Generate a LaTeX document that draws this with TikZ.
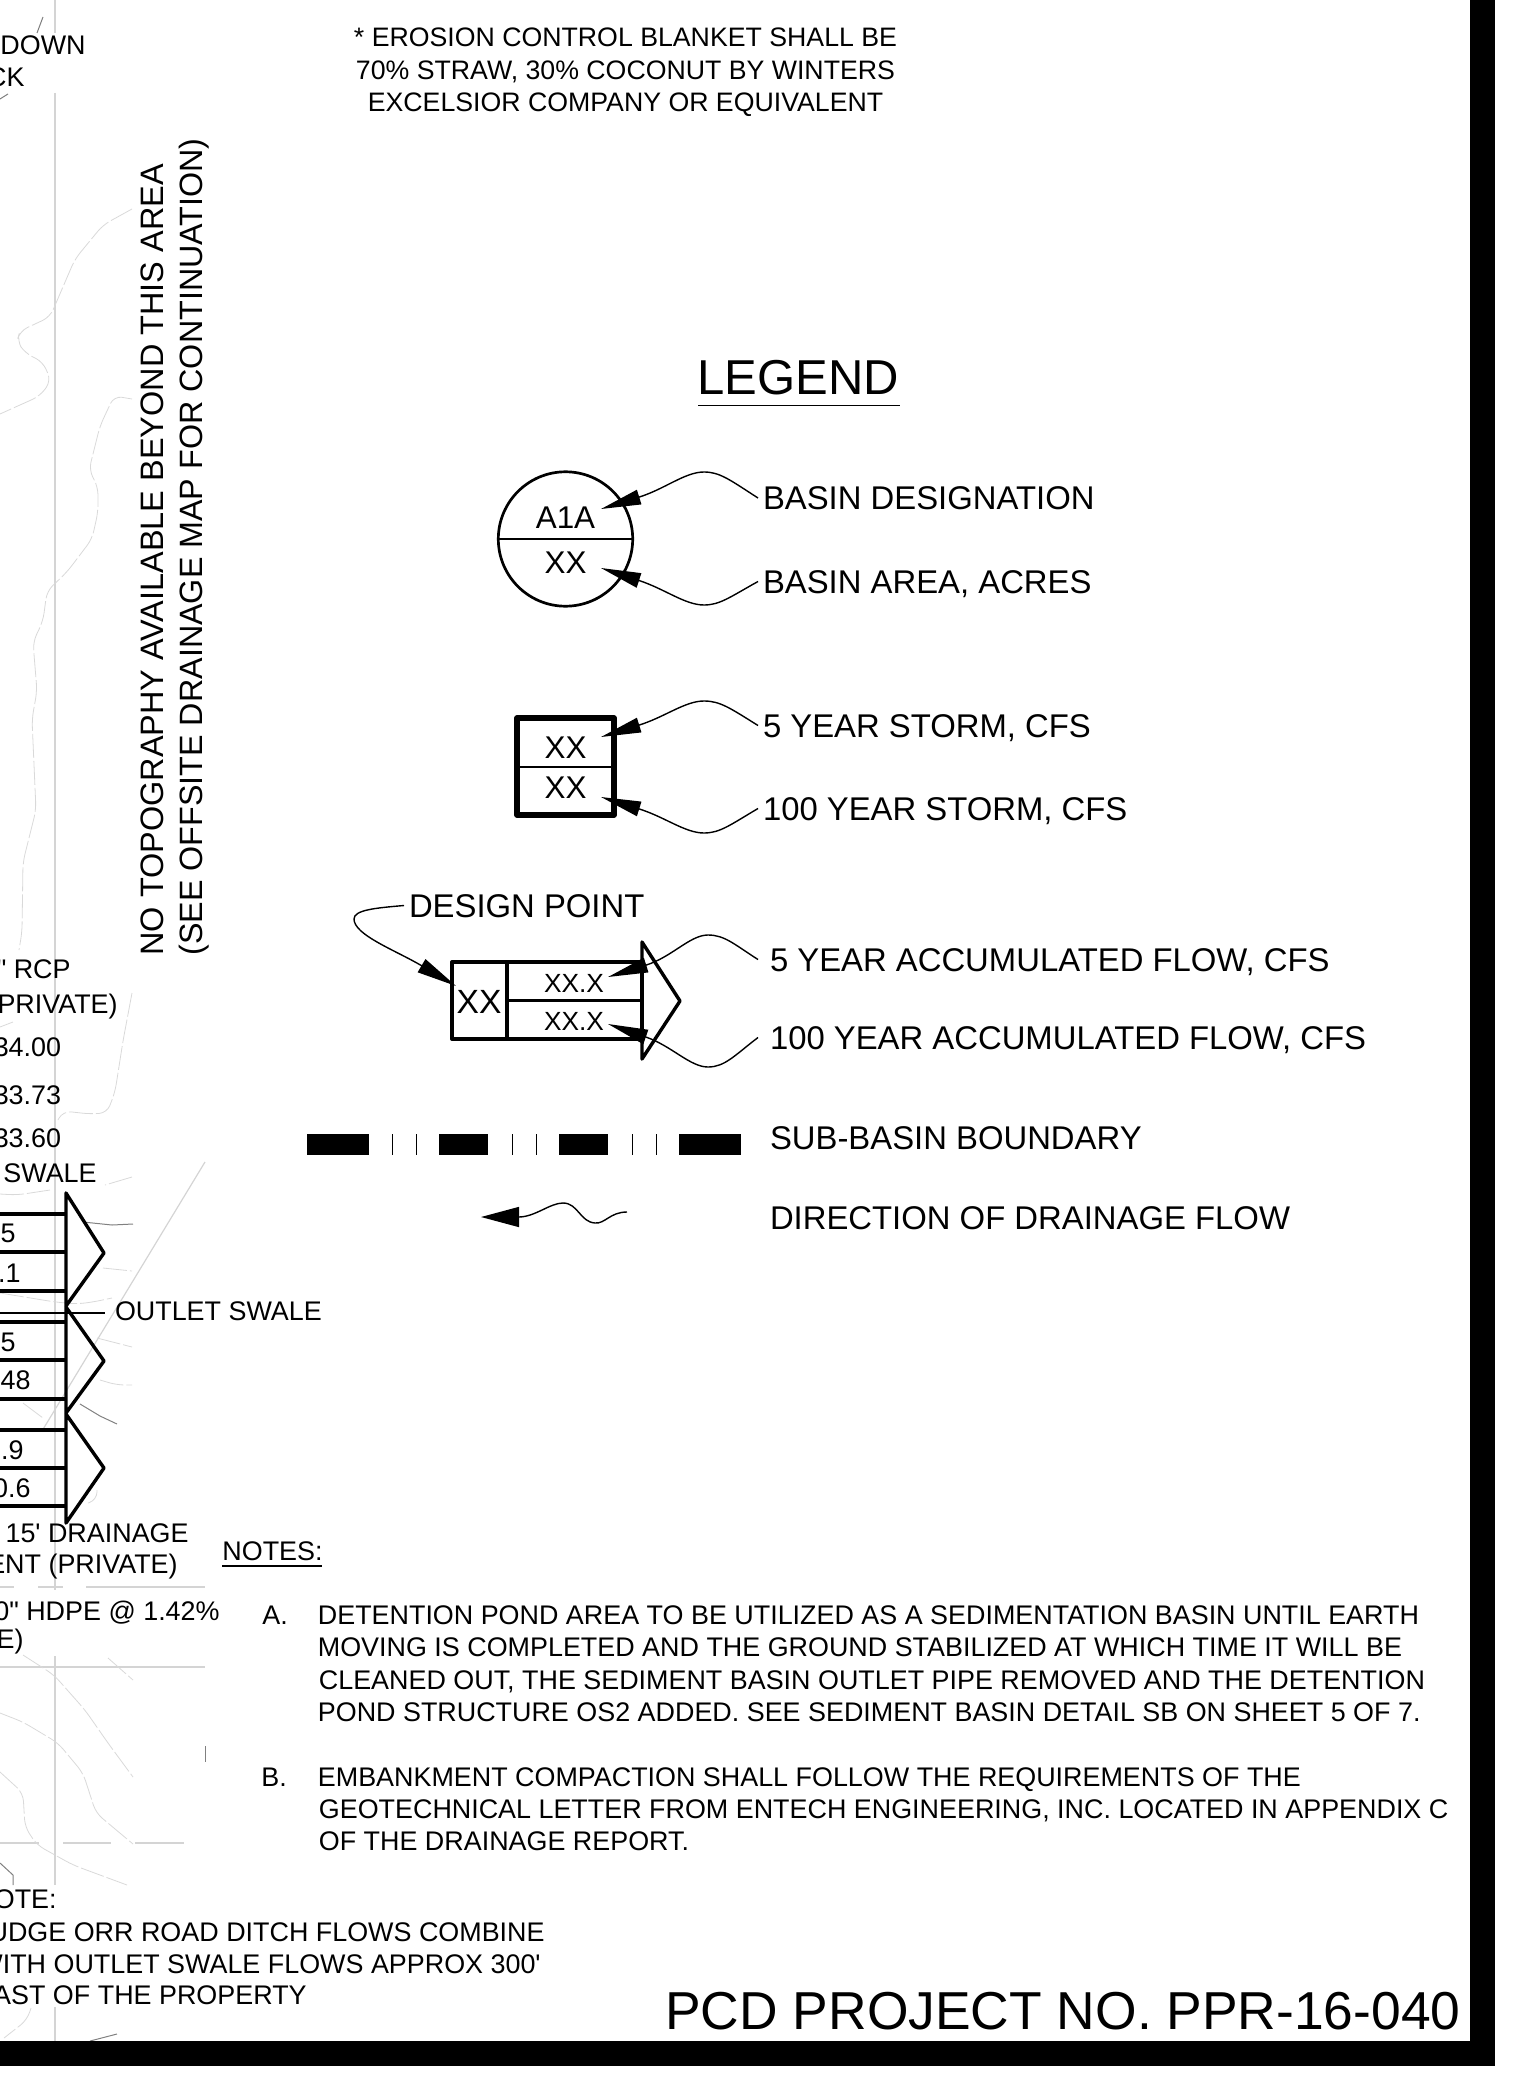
\documentclass[tikz,border=0pt]{standalone}
\usepackage{fontspec}
\defaultfontfeatures[\rmfamily]{}
\setmainfont{Liberation Sans}
\usetikzlibrary{arrows.meta}

\tikzset{
    lab/.style={inner sep=0pt, outer sep=2.5pt, anchor=base west, text height=11.5pt, text depth=0pt, font=\fontsize{16.42}{18}\selectfont},
    sidelab/.style={inner sep=0pt, anchor=base west, font=\fontsize{16.22}{18}\selectfont},
    sm/.style={inner sep=0pt, anchor=base west, font=\fontsize{13.45}{15}\selectfont},
    smr/.style={sm, anchor=base east},
    cell/.style={inner sep=0pt, anchor=base, font=\fontsize{15.7}{18}\selectfont},
    leader/.style={-{Triangle[length=20pt,width=7.5pt]}, line width=0.7pt},
    flowbox/.style={draw, line width=1.7pt, line join=round},
    topo/.style={draw=black!15, line width=0.4pt, dash pattern=on 12pt off 1.5pt, rounded corners=4pt},
    ground/.style={draw=black!17, line width=0.6pt},
    darktopo/.style={draw=black!50, line width=0.5pt}
}

\begin{document}
\begin{tikzpicture}[x=0.5pt, y=-0.5pt]
        \useasboundingbox (0,0) rectangle (1521,2075);

        % Background
        \foreach \ya/\yb in {0/33,93/1590,1656/1885,2007/2041}
            \path[ground] (55,\ya) -- (55,\yb);
        \path[ground] (205,1162) -- (42,1431);
        \path[ground] (0,1587) -- (14,1587) (38,1587) -- (63,1587) (86,1587) -- (205,1587);
        \path[ground] (0,1667) -- (205,1667);
        \path[ground] (0,1843) -- (39,1843) (63,1843) -- (111,1843) (135,1843) -- (184,1843);
        \path[topo] (132,209) -- (103,225) -- (75,259) -- (50,317) -- (20,331) -- (17,341) -- (25,353) -- (43,362) -- (51,381) -- (40,396) -- (20,405) -- (0,414);
        \path[topo] (132,399) -- (114,396) -- (100,426) -- (89,470) -- (98,487) -- (98,512) -- (92,539) -- (67,572) -- (47,591) -- (43,621) -- (33,642) -- (37,691) -- (32,719) -- (36,810) -- (23,862) -- (22,932) -- (19,950);
        \path[topo] (132,993) -- (123,1041) -- (115,1092) -- (107,1113) -- (90,1114) -- (63,1111) -- (58,1120);
        \path[topo] (13,1022) -- (0,1027);
        \path[topo] (132,1177) -- (105,1185);
        \path[topo] (0,1194) -- (17,1195) -- (50,1190);
        \path[topo] (103,1268) -- (132,1271);
        \path[topo] (0,1293) -- (55,1302) -- (77,1304) -- (93,1302) -- (112,1298);
        \path[topo] (97,1338) -- (132,1347);
        \path[topo] (100,1380) -- (117,1385) -- (132,1385);
        \path[topo] (23,1403) -- (43,1418);
        \path[topo] (97,1490) -- (97,1500) -- (88,1503);
        \path[topo] (23,1655) -- (54,1675) -- (85,1710) -- (108,1743) -- (133,1777);
        \path[topo] (108,1658) -- (133,1680);
        \path[topo] (0,1713) -- (23,1722) -- (58,1743) -- (83,1773) -- (96,1813) -- (133,1844);
        \path[topo] (0,1772) -- (23,1793) -- (25,1827) -- (37,1845) -- (73,1865) -- (127,1885);
        \path[topo] (31,2008) -- (27,2020) -- (4,2038);
        \path[darktopo] (43,17) -- (37,33);
        \path[darktopo] (8,94) -- (0,99);
        \path[darktopo] (83,1222) -- (112,1225) -- (133,1224);
        \path[darktopo] (80,1404) -- (100,1416) -- (117,1424);
        \path[darktopo] (205,1746) -- (205,1762);
        \path[darktopo] (0,1863) -- (13,1875) -- (13,1885);
        \path[darktopo] (117,2034) -- (90,2041);

        % Sheet border
        \fill (1470,0) rectangle (1495,2066);
        \fill (0,2041) rectangle (1495,2066);

        % Top notes
        \node (blanketA) [sm, anchor=base, font=\fontsize{13.35}{15}\selectfont] at (625.5,47) {* EROSION CONTROL BLANKET SHALL BE};
        \node (blanketB) [sm, anchor=base, font=\fontsize{13.35}{15}\selectfont] at (625.5,80) {70\% STRAW, 30\% COCONUT BY WINTERS};
        \node (blanketC) [sm, anchor=base, font=\fontsize{13.35}{15}\selectfont] at (625.5,112) {EXCELSIOR COMPANY OR EQUIVALENT};
        \node (notopoA) [sidelab, rotate=90] at (163,956) {NO TOPOGRAPHY AVAILABLE BEYOND THIS AREA};
        \node (notopoB) [sidelab, rotate=90, font=\fontsize{16.14}{18}\selectfont] at (202,956) {(SEE OFFSITE DRAINAGE MAP FOR CONTINUATION)};

        % Legend title
        \node (legend) [inner sep=0pt, anchor=base west, font=\fontsize{24.5}{28}\selectfont] at (697,395) {LEGEND};
        \draw[line width=0.75pt] (698,405.5) -- (900,405.5);

        % Basin symbol
        \node (basin) [draw, circle, line width=1.35pt, minimum size=67.2pt, inner sep=0pt] at (565.5,539) {};
        \draw[line width=1pt] (basin.west) -- (basin.east);
        \node (basinname) [cell] at (565.5,528) {A1A};
        \node (basinarea) [cell] at (565.5,573) {XX};
        \node (basinnamelab) [lab] at (758,509.5) {BASIN DESIGNATION};
        \node (basinarealab) [lab] at (758,593) {BASIN AREA, ACRES};
        \coordinate (basinnametip) at (601,509);
        \coordinate (basinareatip) at (601,568);
        \draw[leader] (basinnamelab.west) .. controls (730,480) and (720,472) .. (704,472) .. controls (685,472) and (665,489) .. (basinnametip);
        \draw[leader] (basinarealab.west) .. controls (730,597) and (720,605) .. (704,605) .. controls (685,605) and (665,589) .. (basinareatip);

        % Storm symbol
        \node (storm) [draw, rectangle, line width=2.8pt, line join=round, minimum width=48.5pt, minimum height=48.5pt, inner sep=0pt] at (565.5,766.5) {};
        \draw[line width=1pt] (storm.west) -- (storm.east);
        \node (stormfive) [cell] at (565.5,758) {XX};
        \node (stormhundred) [cell] at (565.5,798) {XX};
        \node (stormfivelab) [lab] at (758,737) {5 YEAR STORM, CFS};
        \node (stormhundredlab) [lab] at (758,820) {100 YEAR STORM, CFS};
        \coordinate (stormfivetip) at (601,737);
        \coordinate (stormhundredtip) at (601,797);
        \draw[leader] (stormfivelab.west) .. controls (730,708) and (720,701) .. (704,701) .. controls (685,701) and (665,717) .. (stormfivetip);
        \draw[leader] (stormhundredlab.west) .. controls (730,825) and (720,833) .. (704,833) .. controls (685,833) and (665,817) .. (stormhundredtip);

        % Design point symbol
        \node (dpoint) [flowbox, minimum width=95pt, minimum height=38.5pt, inner sep=0pt] at (547,1000.5) {};
        \draw[flowbox] (507,962) -- (507,1039);
        \draw[flowbox] (dpoint.west) ++(55,0) -- (dpoint.east);
        \draw[flowbox] (642,942) -- (680,1001) -- (642,1059) -- cycle;
        \node (dpointid) [cell, font=\fontsize{16.8}{18}\selectfont] at (479,1013) {XX};
        \node (dpointfive) [cell, font=\fontsize{13.15}{15}\selectfont] at (574,992) {XX.X};
        \node (dpointhundred) [cell, font=\fontsize{13.15}{15}\selectfont] at (574,1030) {XX.X};
        \node (dpointlab) [lab] at (404,917) {DESIGN POINT};
        \node (flowfivelab) [lab, outer sep=6pt] at (758,971) {5 YEAR ACCUMULATED FLOW, CFS};
        \node (flowhundredlab) [lab, outer sep=6pt] at (758,1049) {100 YEAR ACCUMULATED FLOW, CFS};
        \coordinate (dpointtip) at (456,986);
        \coordinate (flowfivetip) at (608,977);
        \coordinate (flowhundredtip) at (608,1024);
        \draw[leader] (dpointlab.west) .. controls (375,908) and (354,910) .. (354,919) .. controls (354,935) and (395,950) .. (dpointtip);
        \draw[leader] (flowfivelab.west) .. controls (735,945) and (725,935) .. (708,935) .. controls (690,935) and (672,957) .. (flowfivetip);
        \draw[leader] (flowhundredlab.west) .. controls (735,1055) and (725,1067) .. (708,1067) .. controls (690,1067) and (672,1046) .. (flowhundredtip);

        % Sub-basin boundary
        \foreach \xa/\xb in {307/369,439/488,559/608,679/741}
            \fill (\xa,1134) rectangle (\xb,1155);
        \foreach \xt in {392,416,512,536,632,656}
            \draw[line width=0.4pt] (\xt,1134) -- (\xt,1155);
        \node (boundarylab) [lab, outer sep=0pt] at (770,1149) {SUB-BASIN BOUNDARY};

        % Drainage flow
        \node (drainlab) [lab, outer sep=0pt] at (770,1229) {DIRECTION OF DRAINAGE FLOW};
        \coordinate (drainstart) at (627,1212);
        \coordinate (draintip) at (481,1217);
        \draw[-{Triangle[length=19pt,width=10pt]}, line width=0.7pt] (drainstart) .. controls (610,1212) and (605,1224) .. (595,1223) .. controls (580,1222) and (578,1203) .. (563,1203) .. controls (550,1203) and (535,1217) .. (draintip);

        % Cut flow symbols
        \foreach \yb in {1214,1252,1291,1322,1360,1399,1430,1468,1506}
            \draw[line width=1.7pt] (0,\yb) -- (66,\yb);
        \draw[flowbox] (66,1193) -- (104,1253) -- (66,1306) -- cycle;
        \draw[flowbox] (66,1307) -- (104,1361) -- (66,1413) -- cycle;
        \draw[flowbox] (66,1414) -- (104,1468) -- (66,1523) -- cycle;
        \node (outletlab) [sm, outer sep=5pt] at (105,1320) {OUTLET SWALE};
        \coordinate (outletend) at (0,1313);
        \draw[line width=0.7pt] (outletend) -- (outletend -| outletlab.west);

        % Cut labels
        \node (cutA) [smr] at (86,55) {NDOWN};
        \node (cutB) [smr] at (25,87) {CK};
        \node (cutC) [smr] at (71,978) {" RCP};
        \node (cutD) [smr] at (118,1013) {(PRIVATE)};
        \node (cutE) [smr] at (61.5,1056) {34.00};
        \node (cutF) [smr] at (61.5,1104) {33.73};
        \node (cutG) [smr] at (61.5,1147) {33.60};
        \node (cutH) [smr] at (97,1182) {SWALE};
        \node (cutI) [smr] at (16,1242) {5};
        \node (cutJ) [smr] at (21,1282) {4.1};
        \node (cutK) [smr] at (16,1351) {5};
        \node (cutL) [smr] at (31,1389) {48};
        \node (cutM) [smr] at (24,1459) {3.9};
        \node (cutN) [smr] at (31,1497) {0.6};
        \node (cutO) [smr] at (189,1542) {15' DRAINAGE};
        \node (cutP) [smr] at (178,1573) {ENT (PRIVATE)};
        \node (cutQ) [smr] at (220,1620) {0" HDPE @ 1.42\%};
        \node (cutR) [smr] at (24,1648) {E)};
        \node (cutS) [smr] at (57,1908) {OTE:};
        \node (cutT) [smr] at (545,1941) {UDGE ORR ROAD DITCH FLOWS COMBINE};
        \node (cutU) [smr] at (541,1973) {WITH OUTLET SWALE FLOWS APPROX 300'};
        \node (cutV) [smr] at (307,2004) {AST OF THE PROPERTY};

        % Notes
        \node (notes) [sm] at (222,1560) {NOTES:};
        \draw[line width=0.75pt] (222,1566) -- (322,1566);
        \node (noteA) [sm] at (262,1624) {A.};
        \node (noteAa) [sm] at (317.5,1624) {DETENTION POND AREA TO BE UTILIZED AS A SEDIMENTATION BASIN UNTIL EARTH};
        \node (noteAb) [sm] at (317.5,1656) {MOVING IS COMPLETED AND THE GROUND STABILIZED AT WHICH TIME IT WILL BE};
        \node (noteAc) [sm] at (318.5,1689) {CLEANED OUT, THE SEDIMENT BASIN OUTLET PIPE REMOVED AND THE DETENTION};
        \node (noteAd) [sm] at (317.5,1721) {POND STRUCTURE OS2 ADDED. SEE SEDIMENT BASIN DETAIL SB ON SHEET 5 OF 7.};
        \node (noteB) [sm] at (261,1786) {B.};
        \node (noteBa) [sm] at (317.5,1786) {EMBANKMENT COMPACTION SHALL FOLLOW THE REQUIREMENTS OF THE};
        \node (noteBb) [sm] at (318.5,1818) {GEOTECHNICAL LETTER FROM ENTECH ENGINEERING, INC. LOCATED IN APPENDIX C};
        \node (noteBc) [sm] at (318.5,1850) {OF THE DRAINAGE REPORT.};

        % Project number
        \node (project) [inner sep=0pt, anchor=base east, font=\fontsize{26.7}{30}\selectfont] at (1461,2029) {PCD PROJECT NO. PPR-16-040};
    \end{tikzpicture}
\end{document}
